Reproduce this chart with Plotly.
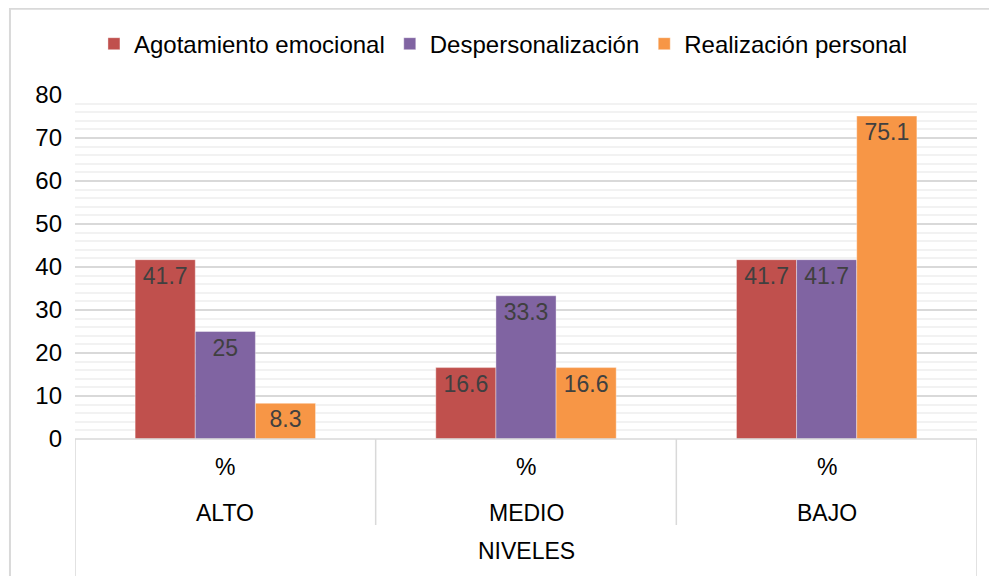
import plotly.graph_objects as go

categories = ["ALTO", "MEDIO", "BAJO"]
sub_label = "%"
group_title = "NIVELES"
series_names = ["Agotamiento emocional", "Despersonalización", "Realización personal"]
agotamiento = [41.7, 16.6, 41.7]
despersonalizacion = [25, 33.3, 41.7]
realizacion = [8.3, 16.6, 75.1]
y_ticks = [0, 10, 20, 30, 40, 50, 60, 70, 80]

colors = ["#C0504D", "#8064A2", "#F79646"]
series_vals = [agotamiento, despersonalizacion, realizacion]
FONT = "Liberation Sans, Arial, sans-serif"

xs = list(range(len(categories)))
fig = go.Figure()
for name, vals, col in zip(series_names, series_vals, colors):
    fig.add_trace(go.Bar(
        x=xs, y=vals, name=name,
        marker=dict(color=col, line=dict(width=0.75, color="rgba(255,255,255,0.5)")),
        text=[f"{v:g}" for v in vals], textposition="inside", insidetextanchor="end",
        textangle=0,
        insidetextfont=dict(color="#404040", size=23, family=FONT),
        cliponaxis=False,
    ))

shapes = []
# outer chart border (top and left edges visible; right/bottom run off the canvas)
shapes.append(dict(type="rect", xref="paper", yref="paper", x0=-0.0721, x1=1.06, y0=-0.5, y1=1.2507,
                   line=dict(color="#D9D9D9", width=2), fillcolor="rgba(0,0,0,0)", layer="below"))
# category separators
for i in range(len(categories) + 1):
    xv = i - 0.5
    bottom = -0.5 if i in (0, len(categories)) else -0.25
    shapes.append(dict(type="line", xref="x", yref="paper", x0=xv, x1=xv, y0=0, y1=bottom,
                       line=dict(color="#D9D9D9", width=1.5)))
# baseline
shapes.append(dict(type="line", xref="paper", yref="paper", x0=0, x1=1, y0=0, y1=0,
                   line=dict(color="#D9D9D9", width=1.5)))

annotations = []
for i, c in enumerate(categories):
    annotations.append(dict(x=i, y=-0.0814, xref="x", yref="paper", text=sub_label, showarrow=False,
                            xanchor="center", yanchor="middle",
                            font=dict(size=23, color="#000000", family=FONT)))
    annotations.append(dict(x=i, y=-0.215, xref="x", yref="paper", text=c, showarrow=False,
                            xanchor="center", yanchor="middle",
                            font=dict(size=23, color="#000000", family=FONT)))
annotations.append(dict(x=0.5, y=-0.326, xref="paper", yref="paper", text=group_title, showarrow=False,
                        xanchor="center", yanchor="middle",
                        font=dict(size=23, color="#000000", family=FONT)))

fig.update_layout(
    width=997, height=576,
    margin=dict(l=67, r=28, t=87, b=145, pad=0),
    paper_bgcolor="white", plot_bgcolor="white",
    barmode="group", bargap=0.4, bargroupgap=0,
    font=dict(family=FONT, size=23, color="#000000"),
    legend=dict(orientation="h", x=0.475, xanchor="center", y=1.148, yanchor="middle",
                font=dict(size=24, color="#000000", family=FONT), itemwidth=30,
                bgcolor="rgba(0,0,0,0)"),
    xaxis=dict(range=[-0.5, 2.5], showticklabels=False, showgrid=False, zeroline=False,
               showline=False, ticks=""),
    yaxis=dict(range=[0, 80], tickvals=y_ticks, showgrid=True, gridcolor="#D9D9D9", gridwidth=1.5,
               zeroline=False, showline=False, ticks="", ticklabelstandoff=12,
               tickfont=dict(size=24, color="#000000", family=FONT),
               minor=dict(dtick=2, showgrid=True, gridcolor="#F2F2F2", gridwidth=1.5)),
    shapes=shapes, annotations=annotations,
)

fig.write_html("out.html")
